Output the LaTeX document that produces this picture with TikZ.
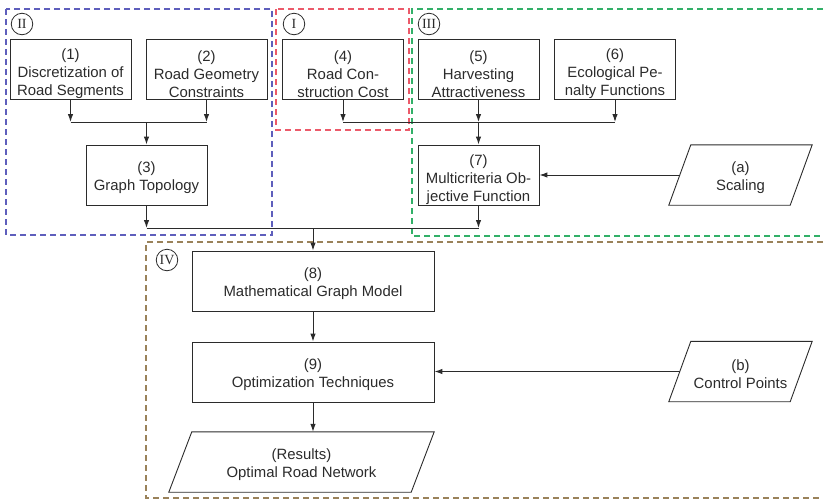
\documentclass[tikz,border=0pt]{standalone}
\usepackage{fontspec}
\setmainfont{Liberation Sans}
\newfontfamily\numfont{Liberation Serif}
\usetikzlibrary{arrows.meta}
\definecolor{ink}{HTML}{2B2B2B}
\definecolor{grpblue}{HTML}{5E5EBC}
\definecolor{grpred}{HTML}{EC5A6A}
\definecolor{grpgreen}{HTML}{32B068}
\definecolor{grpbrown}{HTML}{9A825A}
\begin{document}
\begin{tikzpicture}[x=1pt,y=-1pt,
  font=\fontsize{14.9}{18}\selectfont,
  stepbox/.style={draw=ink, line width=0.9pt, minimum width=121pt,
    minimum height=60pt, inner sep=0pt},
  widebox/.style={stepbox, minimum width=242pt},
  iobox/.style={draw=none, minimum width=121pt, minimum height=60pt, inner sep=0pt},
  % box captions, set a little below the box centre
  twolines/.style={align=center, text=ink, inner sep=0pt, yshift=-3pt},
  threelines/.style={align=center, text=ink, inner sep=0pt, yshift=-5pt},
  ioshape/.style={draw=ink, line width=0.9pt},
  flow/.style={draw=ink, line width=1pt},
  arr/.style={flow, -{Latex[length=8pt,width=5.5pt]}},
  region/.style={line width=1.2pt, dash pattern=on 6pt off 4pt},
  tag/.style={circle, draw=ink, line width=0.8pt, minimum size=21.5pt,
    inner sep=0pt, text=ink, font=\numfont\fontsize{14}{14}\selectfont}]
\useasboundingbox (0,0) rectangle (823,499);

% dashed group frames
\draw[region, grpblue]  (6,9) rectangle (272,235);
\draw[region, grpred]   (276,9) rectangle (409,130);
\draw[region, grpgreen] (823,9) -- (412,9) -- (412,236) -- (823,236);
\draw[region, grpbrown] (823,242) -- (146,242) -- (146,498) -- (823,498);

% group tags
\node[tag] (tII)  at (22,24)  {II};
\node[tag] (tI)   at (294,24) {I};
\node[tag] (tIII) at (429,24) {III};
\node[tag] (tIV)  at (167,260) {IV};

% process boxes
\node[stepbox, label={[threelines, name=b1t]center:{(1)\\Discretization of\\Road Segments}}] (b1) at (70.5,69) {};
\node[stepbox, label={[threelines, name=b2t]center:{(2)\\Road Geometry\\Constraints}}] (b2) at (206.5,69) {};
\node[stepbox, label={[threelines, name=b4t]center:{(4)\\Road Con-\\struction Cost}}] (b4) at (343,69) {};
\node[stepbox, label={[threelines, name=b5t]center:{(5)\\Harvesting\\Attractiveness}}] (b5) at (478.5,69) {};
\node[stepbox, label={[threelines, name=b6t]center:{(6)\\Ecological Pe-\\nalty Functions}}] (b6) at (615,69) {};
\node[stepbox, label={[twolines, name=b3t]center:{(3)\\Graph Topology}}] (b3) at (146.5,175) {};
\node[stepbox, label={[threelines, name=b7t]center:{(7)\\Multicriteria Ob-\\jective Function}}] (b7) at (478.5,175) {};
\node[widebox, label={[twolines, name=b8t]center:{(8)\\Mathematical Graph Model}}] (b8) at (313,281) {};
\node[widebox, label={[twolines, name=b9t]center:{(9)\\Optimization Techniques}}] (b9) at (313,372) {};

% input / output parallelograms
\node[iobox, label={[twolines, name=iat]center:{(a)\\Scaling}}] (ia) at (740.5,175) {};
\node[iobox, label={[twolines, name=ibt]center:{(b)\\Control Points}}] (ib) at (740.5,371.5) {};
\node[iobox, minimum width=242pt,
  label={[twolines, name=rest]center:{(Results)\\Optimal Road Network}}] (res) at (301.5,462) {};
\foreach \n/\s in {ia/11pt, ib/11pt, res/11.5pt}{
  \draw[ioshape] ([xshift=\s]\n.north west) -- ([xshift=\s]\n.north east)
    -- ([xshift=-\s]\n.south east) -- ([xshift=-\s]\n.south west) -- cycle;
}

% junctions
\coordinate (j1) at (146.5,122);
\coordinate (j2) at (478.5,122);
\coordinate (j3) at (313,228);

% connectors
\draw[arr] (b1.south) -- (b1.south |- j1);
\draw[arr] (b2.south) -- (b2.south |- j1);
\draw[flow] (b1.south |- j1) -- (b2.south |- j1);
\draw[arr] (j1) -- (b3.north);

\draw[arr] (b4.south) -- (b4.south |- j2);
\draw[arr] (b5.south) -- (j2);
\draw[arr] (b6.south) -- (b6.south |- j2);
\draw[flow] (b4.south |- j2) -- (b6.south |- j2);
\draw[arr] (j2) -- (b7.north);

\draw[arr] (ia.west) -- (b7.east);

\draw[arr] (b3.south) -- (b3.south |- j3);
\draw[arr] (b7.south) -- (b7.south |- j3);
\draw[flow] (b3.south |- j3) -- (b7.south |- j3);
\draw[arr] (j3) -- (b8.north);

\draw[arr] (b8.south) -- (b9.north);
\draw[arr] (ib.west) -- (b9.east |- ib.west);
\draw[arr] (b9.south) -- (b9.south |- res.north);
\end{tikzpicture}
\end{document}
